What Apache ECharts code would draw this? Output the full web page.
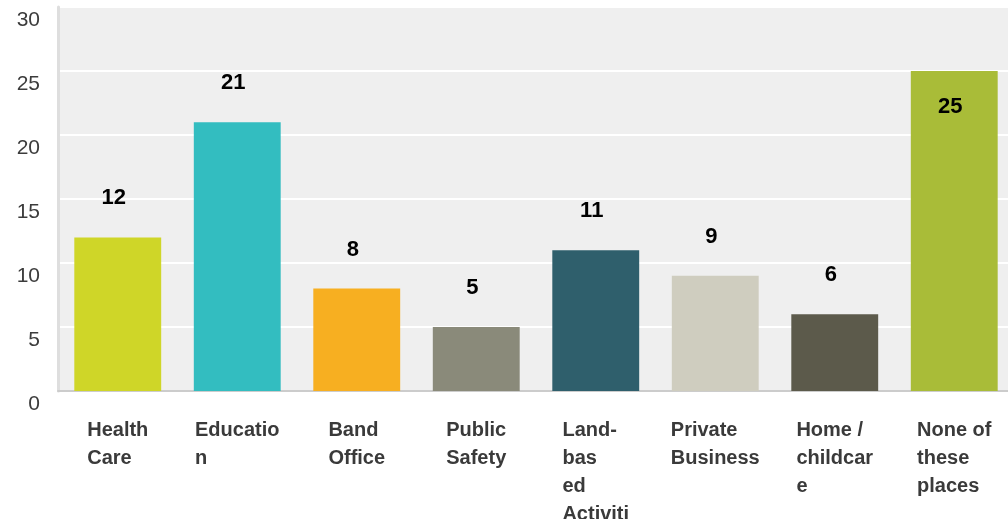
<!DOCTYPE html>
<html>
<head>
<meta charset="utf-8">
<script src="https://cdn.jsdelivr.net/npm/echarts@6/dist/echarts.min.js"></script>
<style>
html,body{margin:0;padding:0;background:#fff;}
#chart{width:1008px;height:519px;}
</style>
</head>
<body>
<div id="chart"></div>
<script>
const categories = ['Health Care', 'Education', 'Band Office', 'Public Safety', 'Land-based Activities', 'Private Business', 'Home / childcare', 'None of these places'];
const tickLabels = ['Health\nCare', 'Educatio\nn', 'Band\nOffice', 'Public\nSafety', 'Land-\nbas\ned\nActiviti\nes', 'Private\nBusiness', 'Home /\nchildcar\ne', 'None of\nthese\nplaces'];
const values = [12, 21, 8, 5, 11, 9, 6, 25];
const yTicks = [0, 5, 10, 15, 20, 25, 30];

const barColors = ['#cfd628', '#33bdc0', '#f7af21', '#8a8a7a', '#2f5f6c', '#cfcdbf', '#5c5a4b', '#a9bc38'];

const yMin = yTicks[0], yMax = yTicks[yTicks.length - 1], yStep = yTicks[1] - yTicks[0];

const chart = echarts.init(document.getElementById('chart'), null, {renderer: 'canvas'});

const data = values.map((v, i) => {
  const inside = v / yMax > 0.8;
  return {
    value: v,
    itemStyle: {color: barColors[i]},
    label: inside ? {position: 'insideTop', distance: 25} : {position: 'top', distance: 28}
  };
});

chart.setOption({
  animation: false,
  grid: {
    left: 58, right: -6, top: 7, bottom: 128,
    containLabel: false,
    outerBoundsMode: 'none',
    show: true, backgroundColor: '#efefef', borderWidth: 0
  },
  xAxis: {
    type: 'category',
    data: categories,
    axisTick: {show: false},
    axisLine: {show: true, lineStyle: {color: '#cccccc', width: 2}},
    axisLabel: {
      interval: 0,
      margin: 25,
      formatter: (val, idx) => tickLabels[idx].split('\n').map(s => '{l|' + s + '}').join('\n'),
      rich: {
        l: {
          align: 'left',
          fontSize: 20,
          fontWeight: 'bold',
          fontFamily: 'Liberation Sans, Arial, sans-serif',
          color: '#3a3a3a',
          lineHeight: 28
        }
      }
    }
  },
  yAxis: {
    type: 'value',
    min: yMin, max: yMax, interval: yStep,
    axisLine: {show: true, lineStyle: {color: '#dedede', width: 3}},
    axisTick: {show: false},
    splitLine: {show: true, lineStyle: {color: '#ffffff', width: 2}},
    axisLabel: {
      fontSize: 21,
      color: '#3c3c3c',
      fontFamily: 'Liberation Sans, Arial, sans-serif',
      verticalAlign: 'top',
      padding: [3, 0, 0, 0],
      margin: 18
    }
  },
  series: [{
    type: 'bar',
    data: data,
    barWidth: '72.7%',
    label: {
      show: true,
      fontSize: 22,
      fontWeight: 'bold',
      color: '#000',
      fontFamily: 'Liberation Sans, Arial, sans-serif',
      offset: [-4, 0]
    }
  }]
});
</script>
</body>
</html>
